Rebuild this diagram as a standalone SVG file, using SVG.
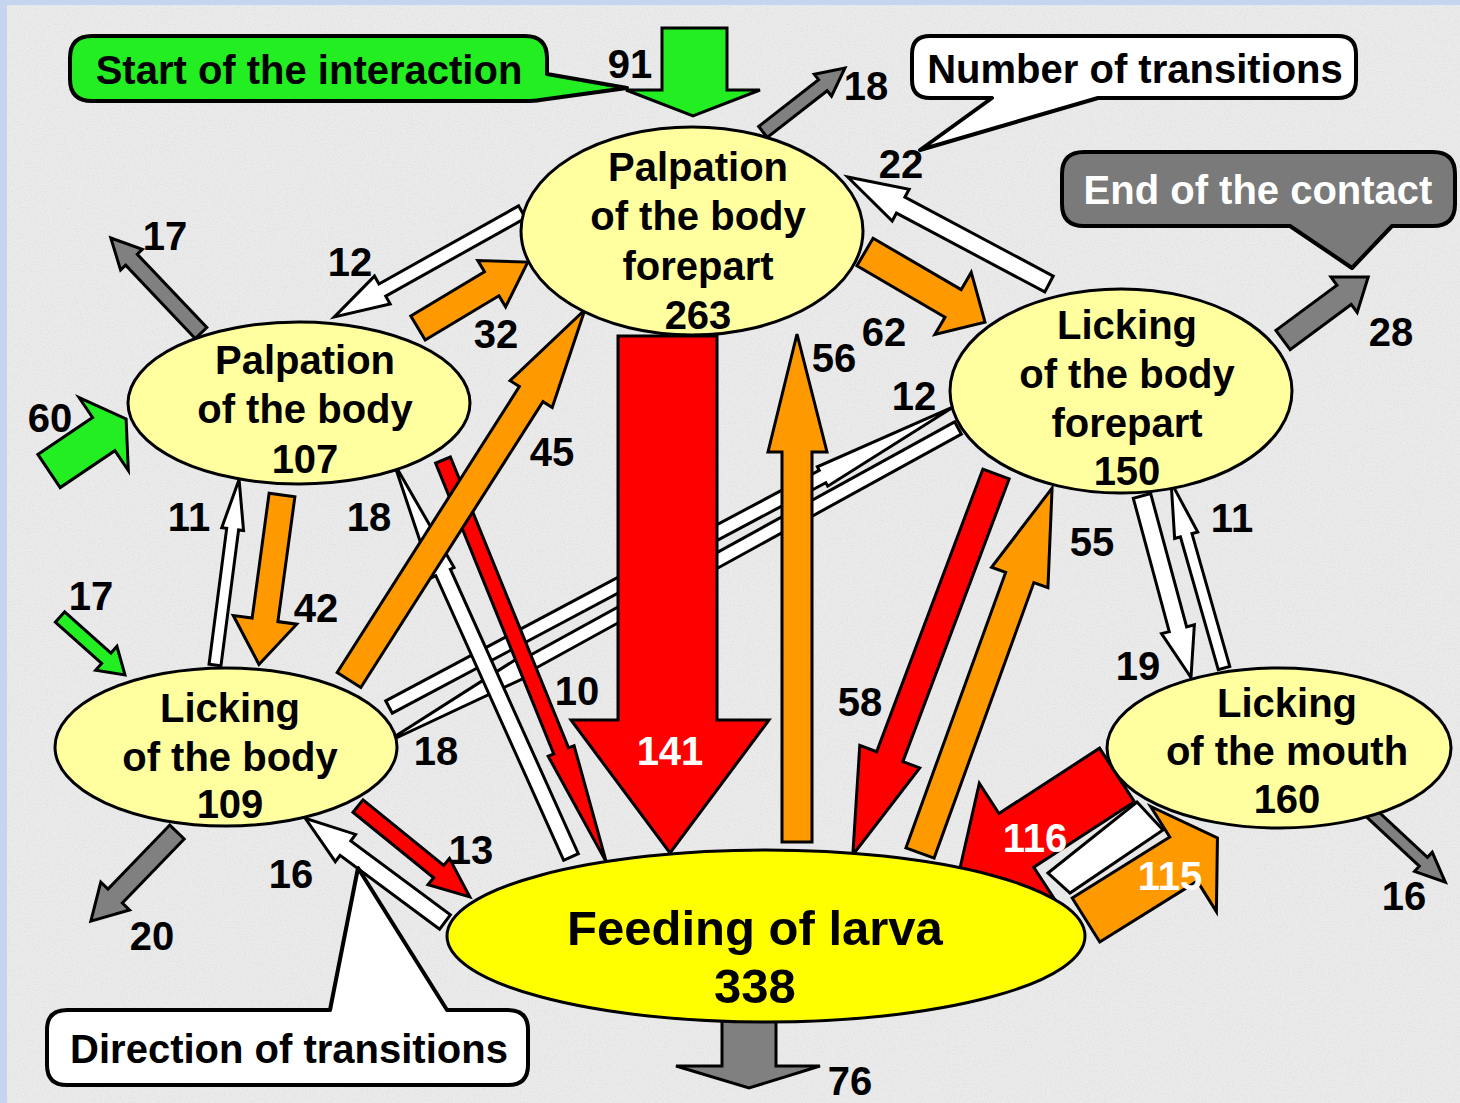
<svg xmlns="http://www.w3.org/2000/svg" width="1460" height="1103" viewBox="0 0 1460 1103">
<style>
.ar{stroke:#000;stroke-width:3;stroke-linejoin:miter}
.w{fill:#fff}.o{fill:#ff9900}.r{fill:#ff0000}.g{fill:#808080}.gr{fill:#22ee22}
.nd{fill:#ffffa0;stroke:#000;stroke-width:3}
.nt{font-family:"Liberation Sans",Arial,sans-serif;font-weight:bold;font-size:40px;text-anchor:middle;fill:#000}
.lb{font-family:"Liberation Sans",Arial,sans-serif;font-weight:bold;font-size:40px;text-anchor:middle;fill:#000}
.wl{fill:#fff}
.co{stroke:#000;stroke-width:4;stroke-linejoin:round}
</style>
<defs>
  <filter id="tex" x="0" y="0" width="100%" height="100%">
    <feTurbulence type="fractalNoise" baseFrequency="0.7" numOctaves="2" seed="5" result="n"/>
    <feColorMatrix in="n" type="matrix" values="0 0 0 0 0.5  0 0 0 0 0.5  0 0 0 0 0.5  0.8 0 0 0 -0.32"/>
  </filter>
</defs>
<rect x="0" y="0" width="1460" height="1103" fill="#c5d5f0"/>
<rect x="7" y="5" width="1453" height="1098" fill="#ebebeb"/>
<rect x="7" y="5" width="1453" height="1098" fill="#000" filter="url(#tex)" opacity="0.6"/>

<g id="connectors">
  <polygon class="ar w" transform="translate(389,707) rotate(-28)" points="0,-7 491,-7 491,-11 641,0 491,11 491,7 0,7"/>
  <polygon class="ar w" transform="translate(958,428) rotate(151.2)" points="0,-7 487,-7 487,-11 657,0 487,11 487,7 0,7"/>
  <polygon class="ar w" transform="translate(571,857) rotate(-114.2)" points="0,-8 312,-8 312,-12 432,0 312,12 312,8 0,8"/>
  <polygon class="ar r" transform="translate(443,460) rotate(67.9)" points="0,-8 314,-8 314,-14 434,0 314,14 314,8 0,8"/>
  <polygon class="ar o" transform="translate(349,680) rotate(-57.5)" points="0,-14 339,-14 339,-25 439,0 339,25 339,14 0,14"/>
  <polygon class="ar r" points="618,336 717,336 717,720 769,720 670,853 571,720 618,720"/>
  <polygon class="ar o" points="782,842 782,452 768,452 797,334 827,452 812,452 812,842"/>
  <polygon class="ar gr" points="662,28 727,28 727,90 760,90 693,116 626,90 662,90"/>
  <polygon class="ar g" transform="translate(763,132) rotate(-38)" points="0,-7 76,-7 76,-14 104,0 76,14 76,7 0,7"/>
  <polygon class="ar w" transform="translate(1049,284) rotate(-152)" points="0,-9 168,-9 168,-18 228,0 168,18 168,9 0,9"/>
  <polygon class="ar o" transform="translate(865,252) rotate(30.3)" points="0,-16 102,-16 102,-36 139,0 102,36 102,16 0,16"/>
  <polygon class="ar g" transform="translate(1283,340) rotate(-36.5)" points="0,-12 76,-12 76,-22 106,0 76,22 76,12 0,12"/>
  <polygon class="ar w" transform="translate(522,212) rotate(150.8)" points="0,-7 160,-7 160,-16 215,0 160,16 160,7 0,7"/>
  <polygon class="ar o" transform="translate(418,328) rotate(-31)" points="0,-14 86,-14 86,-27 128,0 86,27 86,14 0,14"/>
  <polygon class="ar g" transform="translate(201,333) rotate(-133.5)" points="0,-8 101,-8 101,-15 131,0 101,15 101,8 0,8"/>
  <polygon class="ar gr" transform="translate(49,471) rotate(-34)" points="0,-20 66,-20 66,-44 93,0 66,44 66,20 0,20"/>
  <polygon class="ar w" transform="translate(215,665) rotate(-82.6)" points="0,-6 137,-6 137,-11 187,0 137,11 137,6 0,6"/>
  <polygon class="ar o" transform="translate(282,495) rotate(97.75)" points="0,-13 126,-13 126,-32 171,0 126,32 126,13 0,13"/>
  <polygon class="ar gr" transform="translate(60,617) rotate(41.7)" points="0,-7 62,-7 62,-16 87,0 62,16 62,7 0,7"/>
  <polygon class="ar r" transform="translate(358,806) rotate(39.1)" points="0,-8 104,-8 104,-17 144,0 104,17 104,8 0,8"/>
  <polygon class="ar w" transform="translate(445,922) rotate(-143.4)" points="0,-9 124,-9 124,-17 174,0 124,17 124,9 0,9"/>
  <polygon class="ar g" transform="translate(177,832) rotate(134)" points="0,-10 89,-10 89,-20 124,0 89,20 89,10 0,10"/>
  <polygon class="ar r" transform="translate(996,474) rotate(110.6)" points="0,-14 302,-14 302,-32 407,0 302,32 302,14 0,14"/>
  <polygon class="ar o" transform="translate(920,853) rotate(-70.1)" points="0,-15 293,-15 293,-30 388,0 293,30 293,15 0,15"/>
  <polygon class="ar w" transform="translate(1142,496) rotate(74.9)" points="0,-9 138,-9 138,-17 188,0 138,17 138,9 0,9"/>
  <polygon class="ar w" transform="translate(1224,668) rotate(-105.9)" points="0,-6 138,-6 138,-12 193,0 138,12 138,6 0,6"/>
  <polygon class="ar r" transform="translate(1117,775) rotate(147)" points="0,-32 120,-32 120,-68 190,0 120,68 120,32 0,32"/>
  <polygon class="ar o" transform="translate(1086,920) rotate(-32)" points="0,-26 115,-26 115,-62 155,0 115,62 115,26 0,26"/>
  <polygon class="ar w" points="1048,873 1137,802 1163,830 1070,893"/>
  <polygon class="ar g" transform="translate(1370,812) rotate(43)" points="0,-6 73,-6 73,-13 103,0 73,13 73,6 0,6"/>
  <polygon class="ar g" points="722,1015 722,1066 676,1066 749,1088 820,1066 776,1066 776,1015"/>
</g>

<g id="node-palpation-forepart">
  <ellipse class="nd" cx="692" cy="231" rx="171" ry="104"/>
  <text class="nt" x="698" y="181">Palpation</text>
  <text class="nt" x="698" y="230">of the body</text>
  <text class="nt" x="698" y="280">forepart</text>
  <text class="nt" x="698" y="329">263</text>
</g>
<g id="node-palpation-body">
  <ellipse class="nd" cx="299" cy="403" rx="171" ry="81"/>
  <text class="nt" x="305" y="374">Palpation</text>
  <text class="nt" x="305" y="423">of the body</text>
  <text class="nt" x="305" y="473">107</text>
</g>
<g id="node-licking-forepart">
  <ellipse class="nd" cx="1121" cy="391" rx="171" ry="102"/>
  <text class="nt" x="1127" y="339">Licking</text>
  <text class="nt" x="1127" y="388">of the body</text>
  <text class="nt" x="1127" y="437">forepart</text>
  <text class="nt" x="1127" y="485">150</text>
</g>
<g id="node-licking-body">
  <ellipse class="nd" cx="226" cy="747" rx="171" ry="79"/>
  <text class="nt" x="230" y="722">Licking</text>
  <text class="nt" x="230" y="771">of the body</text>
  <text class="nt" x="230" y="818">109</text>
</g>
<g id="node-licking-mouth">
  <ellipse class="nd" cx="1279" cy="748" rx="172" ry="80"/>
  <text class="nt" x="1287" y="717">Licking</text>
  <text class="nt" x="1287" y="765">of the mouth</text>
  <text class="nt" x="1287" y="813">160</text>
</g>
<g id="node-feeding">
  <ellipse cx="766" cy="936" rx="319" ry="86" fill="#ffff00" stroke="#000" stroke-width="3"/>
  <text class="nt" x="755" y="945" style="font-size:49px">Feeding of larva</text>
  <text class="nt" x="755" y="1003" style="font-size:49px">338</text>
</g>

<g id="callout-start">
  <path class="co" fill="#22ee22" d="M92,36 H525 Q547,36 547,58 V74 L627,88 L540,100 Q535,101 525,101 H92 Q70,101 70,79 V58 Q70,36 92,36 Z"/>
  <text class="nt" x="309" y="84">Start of the interaction</text>
</g>
<g id="callout-number">
  <path class="co" fill="#fff" d="M930,36 H1338 Q1356,36 1356,54 V80 Q1356,98 1338,98 H1098 L920,150 L992,98 H930 Q912,98 912,80 V54 Q912,36 930,36 Z"/>
  <text class="nt" x="1135" y="83">Number of transitions</text>
</g>
<g id="callout-end">
  <path class="co" fill="#7a7a7a" d="M1084,152 H1433 Q1455,152 1455,174 V204 Q1455,226 1433,226 H1392 L1352,268 L1290,226 H1084 Q1062,226 1062,204 V174 Q1062,152 1084,152 Z"/>
  <text class="nt" x="1258" y="204" style="fill:#fff">End of the contact</text>
</g>
<g id="callout-direction">
  <path class="co" fill="#fff" d="M67,1010 H330 L358,868 L447,1010 H508 Q528,1010 528,1030 V1065 Q528,1085 508,1085 H67 Q47,1085 47,1065 V1030 Q47,1010 67,1010 Z"/>
  <text class="nt" x="289" y="1063">Direction of transitions</text>
</g>

<g id="labels">
  <text class="lb" x="630" y="78">91</text>
  <text class="lb" x="866" y="100">18</text>
  <text class="lb" x="901" y="178">22</text>
  <text class="lb" x="165" y="250">17</text>
  <text class="lb" x="350" y="276">12</text>
  <text class="lb" x="496" y="348">32</text>
  <text class="lb" x="884" y="346">62</text>
  <text class="lb" x="1391" y="346">28</text>
  <text class="lb" x="834" y="372">56</text>
  <text class="lb" x="50" y="432">60</text>
  <text class="lb" x="914" y="410">12</text>
  <text class="lb" x="552" y="466">45</text>
  <text class="lb" x="189" y="531">11</text>
  <text class="lb" x="369" y="531">18</text>
  <text class="lb" x="1092" y="556">55</text>
  <text class="lb" x="1232" y="532">11</text>
  <text class="lb" x="91" y="610">17</text>
  <text class="lb" x="316" y="622">42</text>
  <text class="lb" x="1138" y="680">19</text>
  <text class="lb" x="577" y="705">10</text>
  <text class="lb" x="860" y="716">58</text>
  <text class="lb wl" x="670" y="765">141</text>
  <text class="lb" x="436" y="765">18</text>
  <text class="lb" x="471" y="864">13</text>
  <text class="lb" x="291" y="888">16</text>
  <text class="lb wl" x="1035" y="852">116</text>
  <text class="lb wl" x="1170" y="890">115</text>
  <text class="lb" x="1404" y="910">16</text>
  <text class="lb" x="152" y="950">20</text>
  <text class="lb" x="850" y="1095">76</text>
</g>
</svg>
